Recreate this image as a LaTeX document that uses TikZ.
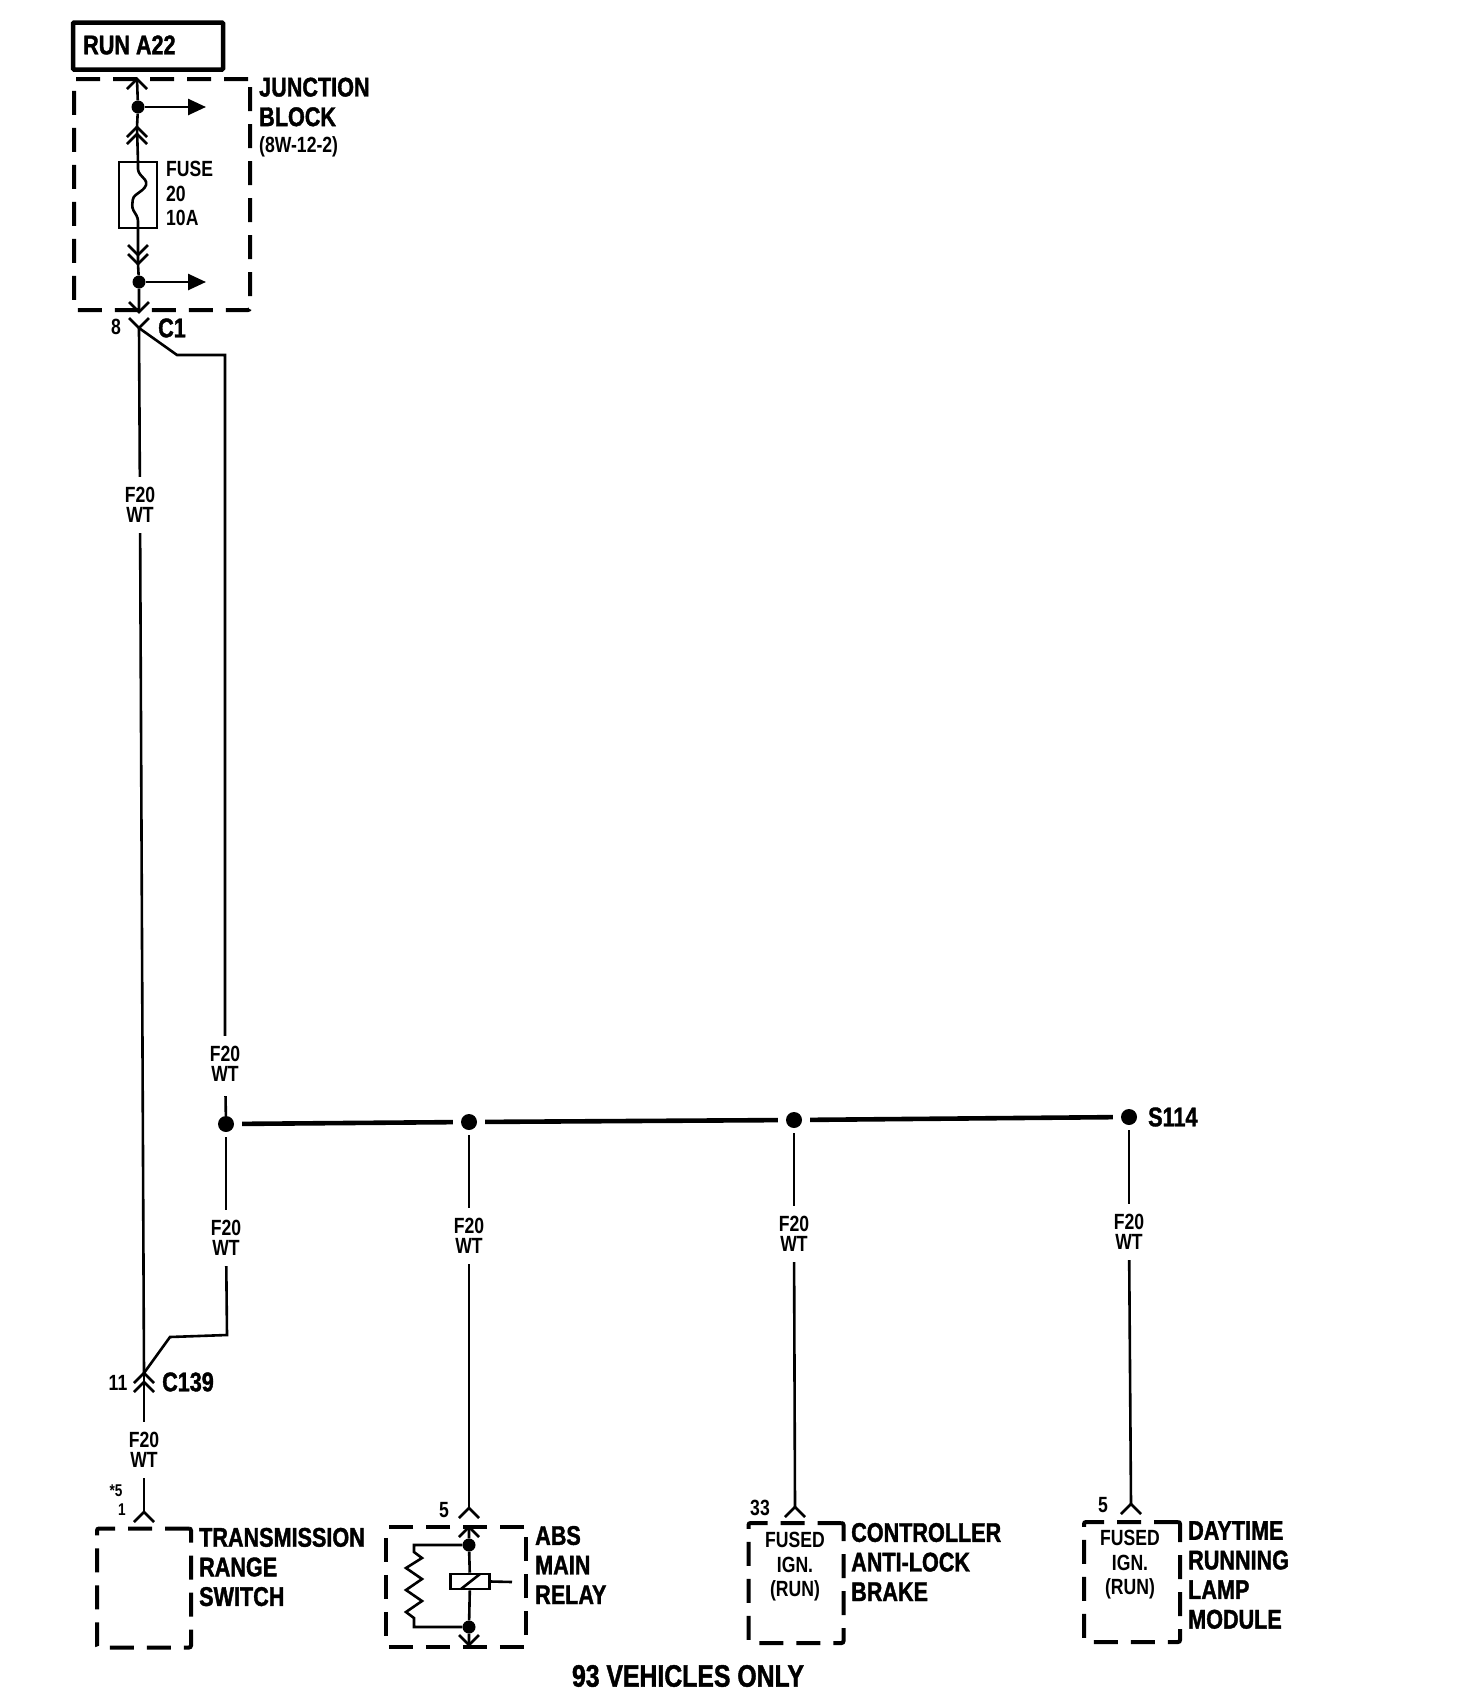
\documentclass[tikz,border=0pt]{standalone}
\usepackage{fontspec}
\setmainfont{Liberation Sans}[FakeStretch=0.8, BoldFont={Liberation Sans Bold}, BoldFeatures={FakeBold=1.4}]
\newfontfamily\smallfam{Liberation Sans Bold}[FakeStretch=0.8]
\usetikzlibrary{arrows.meta}
\tikzset{>={Triangle[length=18pt,width=16pt]}}
\tikzset{
  wire/.style={line width=2.6pt},
  heavy/.style={line width=4.6pt},
  dashbox/.style={draw, dashed, line width=4pt, dash pattern=on 24pt off 13pt, rounded corners=2pt, inner sep=0pt},
  splice/.style={circle, fill, inner sep=0pt, minimum size=16pt},
  gauge/.style={font=\smallfam\fontsize{22}{20}\selectfont, align=center, inner sep=0pt, minimum height=56pt},
  title/.style={font=\bfseries\fontsize{27}{29.6}\selectfont, align=left, anchor=west, inner sep=0pt},
  small/.style={font=\smallfam\fontsize{22}{21}\selectfont, inner sep=0pt},
  tiny/.style={font=\smallfam\fontsize{17}{17}\selectfont, inner sep=0pt},
  inner/.style={font=\smallfam\fontsize{22}{24.5}\selectfont, align=center, inner sep=0pt},
  chev/.pic={\draw[wire] (-10,10) -- (0,0) -- (10,10);}
}

\begin{document}
\begin{tikzpicture}[x=1pt, y=-1pt]
  \useasboundingbox (0,0) rectangle (1472,1700);

  % top of the page: fuse in the junction block
  \node[draw, line width=4.5pt, rounded corners=1pt, minimum width=150pt, minimum height=47pt] (runbox) at (148,46) {};
  \node[title] (runtext) at (83,45) {RUN A22};
  \node[dashbox, minimum width=176pt, minimum height=231pt] (jblock) at (162,194.5) {};
  \node[title] (jtext) at (259,102) {JUNCTION\\BLOCK};
  \node[small, anchor=west] (jref) at (259,147) {(8W-12-2)};

  \coordinate (jtop) at (137,79);
  \node[splice, minimum size=13pt] (jdot1) at (138,107) {};
  \coordinate (jtip1) at (137,127);
  \node[draw, line width=2.4pt, minimum width=38pt, minimum height=66pt, inner sep=0pt] (fuse) at (138,195) {};
  \coordinate (jtip2) at (138,264);
  \node[splice, minimum size=13pt] (jdot2) at (139,282) {};
  \coordinate (jtip3) at (139,312);
  \coordinate (c1) at (139,328);
  \coordinate (jout1) at (206,107);
  \coordinate (jout2) at (206,282);

  \draw[wire] (jtop) -- (jdot1) -- (jtip1) -- (138,162);
  \draw[wire, rounded corners=3pt] (138,162) -- (138,172) -- (147,182) -- (145,188) -- (133,197) -- (132,208) -- (138,218) -- (138,228);
  \draw[wire] (138,228) -- (jtip2) -- (jdot2) -- (jtip3);
  \draw[->, wire] (jdot1) -- (jout1);
  \draw[->, wire] (jdot2) -- (jout2);
  \pic at (jtop) {chev};
  \pic at (137,127) {chev};
  \pic at (137,134) {chev};
  \pic[rotate=180] at (138,255) {chev};
  \pic[rotate=180] at (jtip2) {chev};
  \pic[rotate=180] at (jtip3) {chev};
  \pic[rotate=180] at (c1) {chev};

  \node[small, anchor=west] (fuse1) at (166,169) {FUSE};
  \node[small, anchor=west] (fuse2) at (166,194) {20};
  \node[small, anchor=west] (fuse3) at (166,218) {10A};
  \node[small] (pin8) at (116,327) {8};
  \node[title] (c1text) at (158,328) {C1};

  % long wires
  \node[gauge] (f20a) at (140,505) {F20\\WT};
  \node[gauge] (f20b) at (225,1064) {F20\\WT};
  \coordinate (c139) at (144,1373);
  \node[splice] (s1) at (226,1124) {};
  \node[splice] (s2) at (469,1122) {};
  \node[splice] (s3) at (794,1120) {};
  \node[splice] (s4) at (1129,1117) {};
  \node[title] (s114) at (1148,1117) {S114};
  \coordinate (c1turn) at (177,355);
  \coordinate (c1corner) at (225,355);
  \draw[wire] (c1) -- (f20a);
  \draw[wire] (f20a) -- (c139);
  \draw[wire] (c1) -- (c1turn) -- (c1corner) -- (f20b);
  \draw[wire, shorten <=4pt] (f20b) -- (s1);

  % the bus along the splices
  \draw[heavy, shorten <=8pt, shorten >=8pt] (s1) -- (s2);
  \draw[heavy, shorten <=8pt, shorten >=8pt] (s2) -- (s3);
  \draw[heavy, shorten <=8pt, shorten >=8pt] (s3) -- (s4);

  % drops
  \node[gauge] (f20c) at (226,1238) {F20\\WT};
  \node[gauge] (f20d) at (469,1236) {F20\\WT};
  \node[gauge] (f20e) at (794,1234) {F20\\WT};
  \node[gauge] (f20f) at (1129,1232) {F20\\WT};
  \node[gauge] (f20g) at (144,1450) {F20\\WT};
  \coordinate (c139turn) at (170,1337);
  \coordinate (c139corner) at (227,1335);
  \coordinate (tip1) at (144,1512);
  \coordinate (tip2) at (469,1508);
  \coordinate (tip3) at (795,1507);
  \coordinate (tip4) at (1131,1504);
  \draw[wire, shorten <=5pt] (s1) -- (f20c);
  \draw[wire] (f20c) -- (c139corner) -- (c139turn) -- (c139);
  \draw[wire, shorten <=5pt] (s2) -- (f20d);
  \draw[wire] (f20d) -- (tip2);
  \draw[wire, shorten <=5pt] (s3) -- (f20e);
  \draw[wire] (f20e) -- (tip3);
  \draw[wire, shorten <=5pt] (s4) -- (f20f);
  \draw[wire] (f20f) -- (tip4);
  \draw[wire] (c139) -- (f20g);
  \draw[wire] (f20g) -- (tip1);
  \pic at (c139) {chev};
  \pic at (144,1382) {chev};
  \pic at (tip1) {chev};
  \pic at (tip2) {chev};
  \pic at (tip3) {chev};
  \pic at (tip4) {chev};
  \node[small] (pin11) at (118,1383) {11};
  \node[title] (c139text) at (162,1382) {C139};

  % transmission range switch
  \node[tiny] (pinstar) at (116,1491) {*5};
  \node[tiny] (pin1) at (122,1510) {1};
  \node[dashbox, minimum width=94pt, minimum height=119pt] (trs) at (144,1588) {};
  \node[title] (trstext) at (199,1567) {TRANSMISSION\\RANGE\\SWITCH};

  % abs main relay
  \node[small] (pin5a) at (444,1510) {5};
  \node[dashbox, minimum width=140pt, minimum height=120pt] (abs) at (456,1587) {};
  \node[title] (abstext) at (535,1565) {ABS\\MAIN\\RELAY};
  \coordinate (abstop) at (469,1527);
  \node[splice, minimum size=13pt] (absdot1) at (469,1545) {};
  \node[splice, minimum size=13pt] (absdot2) at (469,1627) {};
  \coordinate (absbot) at (469,1645);
  \node[draw, line width=2.6pt, minimum width=39pt, minimum height=15pt, inner sep=0pt] (coil) at (470,1581.5) {};
  \coordinate (stub) at (512,1582);
  \draw[wire] (abstop) -- (absdot1) -- (coil) -- (absdot2) -- (absbot);
  \draw[wire] (coil.east) -- (stub);
  \draw[wire] (461,1589) -- (480,1574);
  \draw[wire] (absdot1) -- (414,1545) -- (414,1552) -- (422,1558) -- (406,1568) -- (422,1579) -- (406,1590) -- (422,1601) -- (406,1612) -- (414,1618) -- (414,1627) -- (absdot2);
  \pic at (abstop) {chev};
  \pic[rotate=180] at (absbot) {chev};

  % controller
  \node[small] (pin33) at (760,1508) {33};
  \node[dashbox, minimum width=95pt, minimum height=120pt] (cab) at (796,1583) {};
  \node[inner] (cabin) at (795,1567) {FUSED\\IGN.\\(RUN)};
  \node[title] (cabtext) at (851,1562) {CONTROLLER\\ANTI-LOCK\\BRAKE};

  % daytime running lamp module
  \node[small] (pin5b) at (1103,1505) {5};
  \node[dashbox, minimum width=96pt, minimum height=120pt] (drl) at (1132,1582) {};
  \node[inner] (drlin) at (1130,1565) {FUSED\\IGN.\\(RUN)};
  \node[title] (drltext) at (1188,1575) {DAYTIME\\RUNNING\\LAMP\\MODULE};

  \node[title, anchor=center, font=\bfseries\fontsize{31}{31}\selectfont] (note) at (688,1676) {93 VEHICLES ONLY};
\end{tikzpicture}
\end{document}
